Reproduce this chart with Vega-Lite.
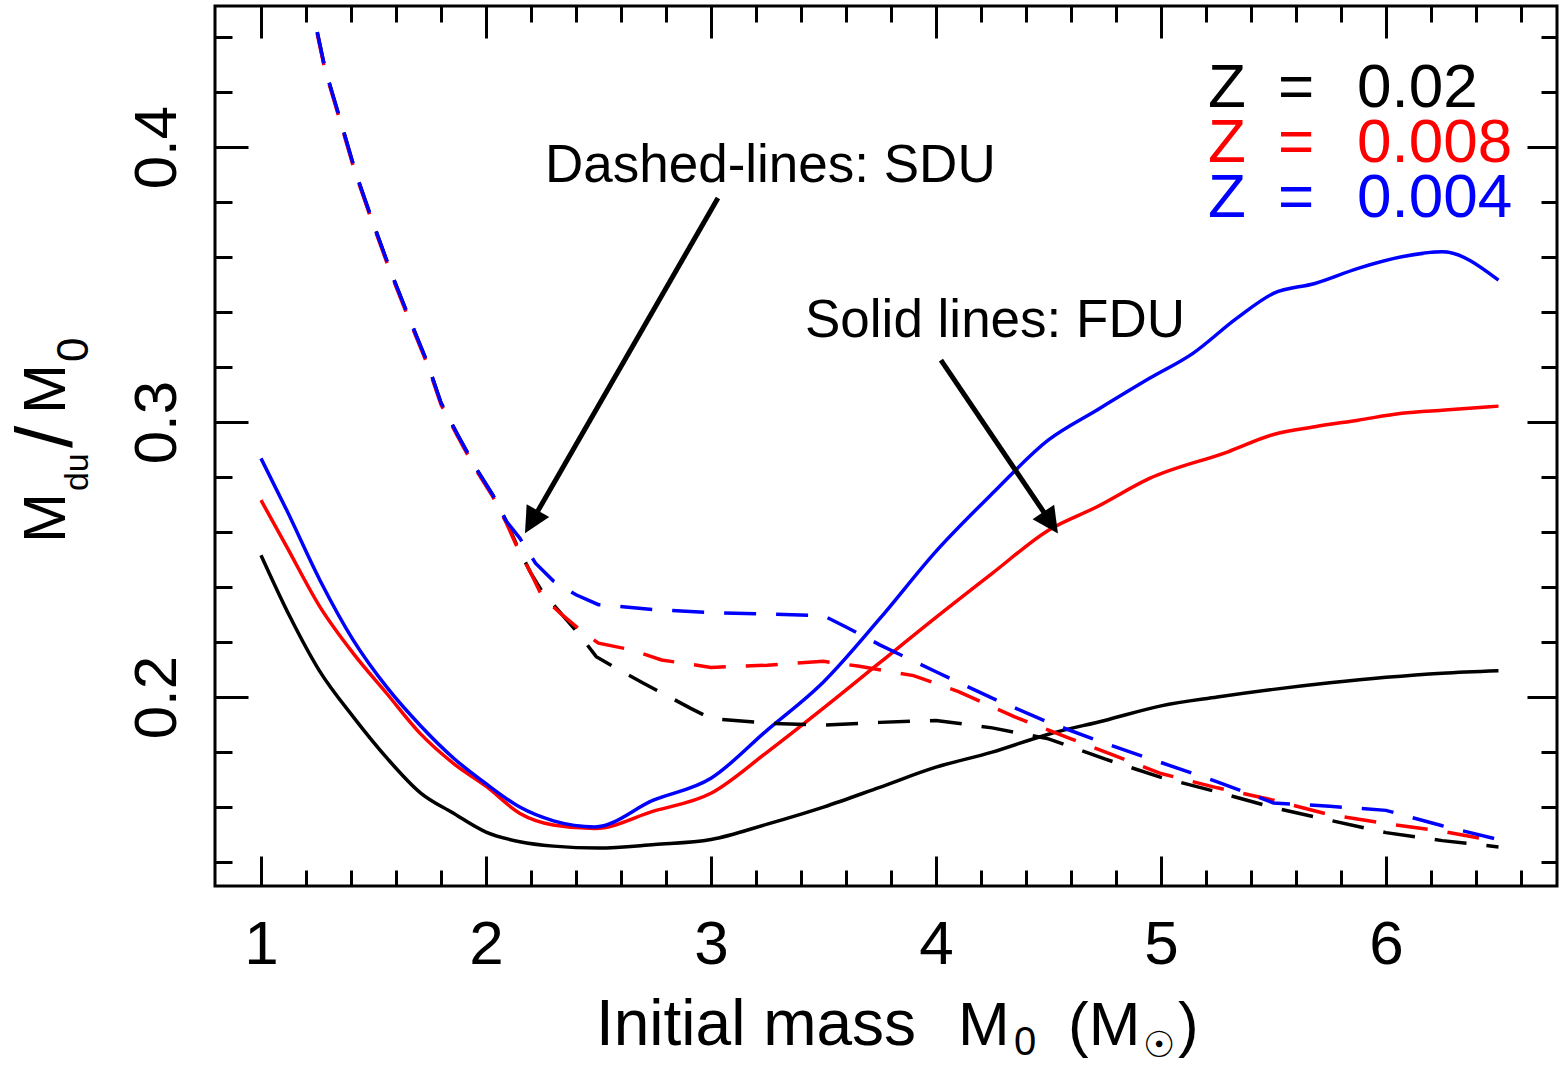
{
  "$schema": "https://vega.github.io/schema/vega-lite/v6.json",
  "width": 1342,
  "height": 880,
  "padding": {"left": 215, "top": 6, "right": 3, "bottom": 180},
  "autosize": {"type": "none"},
  "background": "white",
  "config": {
    "view": {"stroke": "#000000", "strokeWidth": 3},
    "axis": {"grid": false, "domain": false, "tickColor": "#000000", "tickWidth": 3, "labelColor": "#000000", "labelFont": "Liberation Sans", "labelFontSize": 62}
  },
  "datasets": {
    "fdu": [
      {"m": 1.0, "r": 0.2516, "z": "0.02"}, {"m": 1.13, "r": 0.229, "z": "0.02"}, {"m": 1.26, "r": 0.2095, "z": "0.02"},
      {"m": 1.41, "r": 0.1928, "z": "0.02"}, {"m": 1.56, "r": 0.1778, "z": "0.02"}, {"m": 1.71, "r": 0.1651, "z": "0.02"},
      {"m": 1.85, "r": 0.158, "z": "0.02"}, {"m": 2.0, "r": 0.1509, "z": "0.02"}, {"m": 2.15, "r": 0.1474, "z": "0.02"},
      {"m": 2.3, "r": 0.1458, "z": "0.02"}, {"m": 2.5, "r": 0.1451, "z": "0.02"}, {"m": 2.75, "r": 0.1464, "z": "0.02"},
      {"m": 3.0, "r": 0.1482, "z": "0.02"}, {"m": 3.25, "r": 0.1538, "z": "0.02"}, {"m": 3.5, "r": 0.1600, "z": "0.02"},
      {"m": 3.75, "r": 0.1672, "z": "0.02"}, {"m": 4.0, "r": 0.1745, "z": "0.02"}, {"m": 4.25, "r": 0.1800, "z": "0.02"},
      {"m": 4.5, "r": 0.1865, "z": "0.02"}, {"m": 4.75, "r": 0.1915, "z": "0.02"}, {"m": 5.0, "r": 0.1968, "z": "0.02"},
      {"m": 5.25, "r": 0.2000, "z": "0.02"}, {"m": 5.5, "r": 0.2028, "z": "0.02"}, {"m": 5.75, "r": 0.2052, "z": "0.02"},
      {"m": 6.0, "r": 0.2072, "z": "0.02"}, {"m": 6.25, "r": 0.2087, "z": "0.02"}, {"m": 6.5, "r": 0.2096, "z": "0.02"},

      {"m": 1.0, "r": 0.2716, "z": "0.008"}, {"m": 1.114, "r": 0.2547, "z": "0.008"}, {"m": 1.262, "r": 0.2328, "z": "0.008"},
      {"m": 1.41, "r": 0.2159, "z": "0.008"}, {"m": 1.559, "r": 0.2013, "z": "0.008"}, {"m": 1.707, "r": 0.1868, "z": "0.008"},
      {"m": 1.855, "r": 0.1759, "z": "0.008"}, {"m": 2.003, "r": 0.1674, "z": "0.008"}, {"m": 2.151, "r": 0.1577, "z": "0.008"},
      {"m": 2.299, "r": 0.1535, "z": "0.008"}, {"m": 2.484, "r": 0.1522, "z": "0.008"}, {"m": 2.744, "r": 0.1585, "z": "0.008"},
      {"m": 3.0, "r": 0.1650, "z": "0.008"}, {"m": 3.25, "r": 0.1800, "z": "0.008"}, {"m": 3.5, "r": 0.1960, "z": "0.008"},
      {"m": 3.75, "r": 0.2125, "z": "0.008"}, {"m": 4.0, "r": 0.2290, "z": "0.008"}, {"m": 4.25, "r": 0.2450, "z": "0.008"},
      {"m": 4.5, "r": 0.2607, "z": "0.008"}, {"m": 4.716, "r": 0.2692, "z": "0.008"}, {"m": 4.949, "r": 0.2795, "z": "0.008"},
      {"m": 5.298, "r": 0.2892, "z": "0.008"}, {"m": 5.5, "r": 0.2955, "z": "0.008"}, {"m": 5.684, "r": 0.2983, "z": "0.008"},
      {"m": 5.876, "r": 0.3007, "z": "0.008"}, {"m": 6.07, "r": 0.3032, "z": "0.008"}, {"m": 6.262, "r": 0.3044, "z": "0.008"},
      {"m": 6.5, "r": 0.3058, "z": "0.008"},

      {"m": 1.0, "r": 0.2868, "z": "0.004"}, {"m": 1.114, "r": 0.268, "z": "0.004"}, {"m": 1.262, "r": 0.2425, "z": "0.004"},
      {"m": 1.41, "r": 0.2207, "z": "0.004"}, {"m": 1.56, "r": 0.2035, "z": "0.004"}, {"m": 1.71, "r": 0.1895, "z": "0.004"},
      {"m": 1.86, "r": 0.1775, "z": "0.004"}, {"m": 2.0, "r": 0.1685, "z": "0.004"}, {"m": 2.15, "r": 0.1600, "z": "0.004"},
      {"m": 2.3, "r": 0.1550, "z": "0.004"}, {"m": 2.484, "r": 0.1528, "z": "0.004"}, {"m": 2.744, "r": 0.1625, "z": "0.004"},
      {"m": 3.0, "r": 0.1705, "z": "0.004"}, {"m": 3.25, "r": 0.1880, "z": "0.004"}, {"m": 3.5, "r": 0.2055, "z": "0.004"},
      {"m": 3.75, "r": 0.2285, "z": "0.004"}, {"m": 4.0, "r": 0.2530, "z": "0.004"}, {"m": 4.25, "r": 0.2740, "z": "0.004"},
      {"m": 4.5, "r": 0.2935, "z": "0.004"}, {"m": 4.716, "r": 0.3044, "z": "0.004"}, {"m": 4.949, "r": 0.3159, "z": "0.004"},
      {"m": 5.142, "r": 0.3250, "z": "0.004"}, {"m": 5.336, "r": 0.3377, "z": "0.004"}, {"m": 5.5, "r": 0.3468, "z": "0.004"},
      {"m": 5.684, "r": 0.3504, "z": "0.004"}, {"m": 5.876, "r": 0.3559, "z": "0.004"}, {"m": 6.07, "r": 0.3601, "z": "0.004"},
      {"m": 6.25, "r": 0.3619, "z": "0.004"}, {"m": 6.5, "r": 0.3516, "z": "0.004"}
    ],
    "sdu": [
      {"m": 1.25, "r": 0.4418, "z": "0.02"}, {"m": 1.284, "r": 0.4287, "z": "0.02"}, {"m": 1.35, "r": 0.4105, "z": "0.02"},
      {"m": 1.42, "r": 0.3909, "z": "0.02"}, {"m": 1.5, "r": 0.3720, "z": "0.02"}, {"m": 1.58, "r": 0.3540, "z": "0.02"},
      {"m": 1.66, "r": 0.3375, "z": "0.02"}, {"m": 1.74, "r": 0.3215, "z": "0.02"}, {"m": 1.8, "r": 0.3070, "z": "0.02"},
      {"m": 1.87, "r": 0.2960, "z": "0.02"}, {"m": 1.95, "r": 0.2840, "z": "0.02"}, {"m": 2.03, "r": 0.2735, "z": "0.02"},
      {"m": 2.09, "r": 0.2640, "z": "0.02"}, {"m": 2.14, "r": 0.2547, "z": "0.02"}, {"m": 2.2, "r": 0.2450, "z": "0.02"},
      {"m": 2.25, "r": 0.2383, "z": "0.02"}, {"m": 2.34, "r": 0.2298, "z": "0.02"}, {"m": 2.41, "r": 0.2232, "z": "0.02"},
      {"m": 2.49, "r": 0.2147, "z": "0.02"}, {"m": 2.58, "r": 0.2104, "z": "0.02"}, {"m": 2.7, "r": 0.2050, "z": "0.02"},
      {"m": 2.8, "r": 0.2007, "z": "0.02"}, {"m": 2.91, "r": 0.1959, "z": "0.02"}, {"m": 3.0, "r": 0.1922, "z": "0.02"},
      {"m": 3.25, "r": 0.1905, "z": "0.02"}, {"m": 3.5, "r": 0.1898, "z": "0.02"}, {"m": 3.75, "r": 0.1908, "z": "0.02"},
      {"m": 4.0, "r": 0.1915, "z": "0.02"}, {"m": 4.25, "r": 0.1888, "z": "0.02"}, {"m": 4.5, "r": 0.1848, "z": "0.02"},
      {"m": 4.75, "r": 0.1775, "z": "0.02"}, {"m": 5.0, "r": 0.1708, "z": "0.02"}, {"m": 5.25, "r": 0.1655, "z": "0.02"},
      {"m": 5.5, "r": 0.1598, "z": "0.02"}, {"m": 5.75, "r": 0.1552, "z": "0.02"}, {"m": 6.0, "r": 0.1507, "z": "0.02"},
      {"m": 6.25, "r": 0.1478, "z": "0.02"}, {"m": 6.5, "r": 0.1455, "z": "0.02"},

      {"m": 1.25, "r": 0.4412, "z": "0.008"}, {"m": 1.284, "r": 0.4281, "z": "0.008"}, {"m": 1.35, "r": 0.4099, "z": "0.008"},
      {"m": 1.42, "r": 0.3903, "z": "0.008"}, {"m": 1.5, "r": 0.3714, "z": "0.008"}, {"m": 1.58, "r": 0.3534, "z": "0.008"},
      {"m": 1.66, "r": 0.3369, "z": "0.008"}, {"m": 1.74, "r": 0.3209, "z": "0.008"}, {"m": 1.8, "r": 0.3064, "z": "0.008"},
      {"m": 1.87, "r": 0.2954, "z": "0.008"}, {"m": 1.95, "r": 0.2834, "z": "0.008"}, {"m": 2.03, "r": 0.2729, "z": "0.008"},
      {"m": 2.09, "r": 0.2634, "z": "0.008"}, {"m": 2.14, "r": 0.2543, "z": "0.008"}, {"m": 2.2, "r": 0.2450, "z": "0.008"},
      {"m": 2.25, "r": 0.2365, "z": "0.008"}, {"m": 2.34, "r": 0.2298, "z": "0.008"}, {"m": 2.43, "r": 0.2236, "z": "0.008"},
      {"m": 2.5, "r": 0.2196, "z": "0.008"}, {"m": 2.65, "r": 0.2171, "z": "0.008"}, {"m": 2.78, "r": 0.2135, "z": "0.008"},
      {"m": 3.0, "r": 0.2108, "z": "0.008"}, {"m": 3.25, "r": 0.2116, "z": "0.008"}, {"m": 3.5, "r": 0.2130, "z": "0.008"},
      {"m": 3.66, "r": 0.2112, "z": "0.008"}, {"m": 3.9, "r": 0.2078, "z": "0.008"}, {"m": 4.1, "r": 0.2020, "z": "0.008"},
      {"m": 4.35, "r": 0.1928, "z": "0.008"}, {"m": 4.6, "r": 0.1848, "z": "0.008"}, {"m": 4.8, "r": 0.1785, "z": "0.008"},
      {"m": 5.0, "r": 0.1722, "z": "0.008"}, {"m": 5.25, "r": 0.1670, "z": "0.008"}, {"m": 5.5, "r": 0.1625, "z": "0.008"},
      {"m": 5.75, "r": 0.1572, "z": "0.008"}, {"m": 6.0, "r": 0.1540, "z": "0.008"}, {"m": 6.25, "r": 0.1512, "z": "0.008"},
      {"m": 6.5, "r": 0.1475, "z": "0.008"},

      {"m": 1.25, "r": 0.4418, "z": "0.004"}, {"m": 1.284, "r": 0.4287, "z": "0.004"}, {"m": 1.35, "r": 0.4105, "z": "0.004"},
      {"m": 1.42, "r": 0.3909, "z": "0.004"}, {"m": 1.5, "r": 0.3720, "z": "0.004"}, {"m": 1.58, "r": 0.3540, "z": "0.004"},
      {"m": 1.66, "r": 0.3375, "z": "0.004"}, {"m": 1.74, "r": 0.3215, "z": "0.004"}, {"m": 1.8, "r": 0.3070, "z": "0.004"},
      {"m": 1.87, "r": 0.2960, "z": "0.004"}, {"m": 1.95, "r": 0.2840, "z": "0.004"}, {"m": 2.03, "r": 0.2735, "z": "0.004"},
      {"m": 2.09, "r": 0.2640, "z": "0.004"}, {"m": 2.15, "r": 0.2578, "z": "0.004"}, {"m": 2.22, "r": 0.2487, "z": "0.004"},
      {"m": 2.3, "r": 0.2422, "z": "0.004"}, {"m": 2.4, "r": 0.2372, "z": "0.004"}, {"m": 2.5, "r": 0.2336, "z": "0.004"},
      {"m": 2.75, "r": 0.2318, "z": "0.004"}, {"m": 3.0, "r": 0.2307, "z": "0.004"}, {"m": 3.25, "r": 0.2302, "z": "0.004"},
      {"m": 3.5, "r": 0.2296, "z": "0.004"}, {"m": 3.6, "r": 0.2255, "z": "0.004"}, {"m": 3.75, "r": 0.2190, "z": "0.004"},
      {"m": 4.0, "r": 0.2092, "z": "0.004"}, {"m": 4.25, "r": 0.1996, "z": "0.004"}, {"m": 4.5, "r": 0.1908, "z": "0.004"},
      {"m": 4.75, "r": 0.1832, "z": "0.004"}, {"m": 5.0, "r": 0.1762, "z": "0.004"}, {"m": 5.25, "r": 0.1692, "z": "0.004"},
      {"m": 5.5, "r": 0.1615, "z": "0.004"}, {"m": 5.75, "r": 0.1603, "z": "0.004"}, {"m": 6.0, "r": 0.1588, "z": "0.004"},
      {"m": 6.25, "r": 0.1532, "z": "0.004"}, {"m": 6.5, "r": 0.1482, "z": "0.004"}
    ],
    "arrows": [
      {"x": 3.031, "y": 0.3815, "x2": 2.218, "y2": 0.2659},
      {"x": 4.022, "y": 0.3225, "x2": 4.492, "y2": 0.2657}
    ],
    "heads": [
      {"x": 2.1733, "y": 0.2596, "a": 209.9},
      {"x": 4.542, "y": 0.2595, "a": 145.9}
    ],
    "notes": [
      {"x": 2.2622, "y": 0.38727, "t": "Dashed-lines: SDU"},
      {"x": 3.4178, "y": 0.33091, "t": "Solid lines: FDU"}
    ],
    "key": [
      {"x": 5.2089, "y": 0.41455, "t": "Z", "z": "0.02"},
      {"x": 5.52, "y": 0.41455, "t": "=", "z": "0.02"},
      {"x": 5.8711, "y": 0.41455, "t": "0.02", "z": "0.02"},
      {"x": 5.2089, "y": 0.39455, "t": "Z", "z": "0.008"},
      {"x": 5.52, "y": 0.39455, "t": "=", "z": "0.008"},
      {"x": 5.8711, "y": 0.39455, "t": "0.008", "z": "0.008"},
      {"x": 5.2089, "y": 0.37455, "t": "Z", "z": "0.004"},
      {"x": 5.52, "y": 0.37455, "t": "=", "z": "0.004"},
      {"x": 5.8711, "y": 0.37455, "t": "0.004", "z": "0.004"}
    ],
    "titles": [
      {"t": "M", "x": 0.1289, "y": 0.2560, "s": 60, "a": 270},
      {"t": "du", "x": 0.2311, "y": 0.2749, "s": 34, "a": 270},
      {"t": "/", "x": 0.1600, "y": 0.29055, "s": 80, "a": 270},
      {"t": "M", "x": 0.1289, "y": 0.30291, "s": 60, "a": 270},
      {"t": "0", "x": 0.2311, "y": 0.32182, "s": 44, "a": 270},
      {"t": "Initial mass", "x": 2.4889, "y": 0.07345, "s": 64, "a": 0},
      {"t": "M", "x": 4.0978, "y": 0.07345, "s": 62, "a": 0},
      {"t": "0", "x": 4.3467, "y": 0.06982, "s": 40, "a": 0},
      {"t": "(M", "x": 4.5867, "y": 0.07345, "s": 62, "a": 0},
      {"t": "☉", "x": 4.92, "y": 0.06909, "s": 36, "a": 0},
      {"t": ")", "x": 5.0756, "y": 0.07345, "s": 62, "a": 0}
    ]
  },
  "layer": [
    {
      "data": {"name": "fdu"},
      "mark": {"type": "line", "strokeWidth": 3.5, "strokeJoin": "round", "interpolate": "monotone"},
      "encoding": {
        "x": {"field": "m", "type": "quantitative",
              "scale": {"domain": [0.7956, 6.76], "nice": false, "zero": false},
              "axis": {"orient": "bottom", "values": [1, 2, 3, 4, 5, 6], "format": "d", "ticks": false, "labels": true,
                       "labelPadding": 77, "labelBaseline": "alphabetic", "labelFlush": false, "labelOverlap": false, "title": null}},
        "y": {"field": "r", "type": "quantitative",
              "scale": {"domain": [0.1313, 0.4513], "nice": false, "zero": false},
              "axis": {"orient": "left", "values": [0.2, 0.3, 0.4], "format": ".1f", "ticks": false, "labels": true,
                       "labelAngle": 270, "labelAlign": "center", "labelBaseline": "alphabetic", "labelPadding": 40,
                       "labelFontSize": 60, "labelFlush": false, "labelOverlap": false, "title": null}},
        "color": {"field": "z", "type": "nominal",
                  "scale": {"domain": ["0.02", "0.008", "0.004"], "range": ["#000000", "#ff0000", "#0000ff"]}, "legend": null}
      }
    },
    {
      "data": {"name": "sdu"},
      "mark": {"type": "line", "strokeWidth": 3.5, "strokeDash": [32, 20]},
      "encoding": {
        "x": {"field": "m", "type": "quantitative",
              "scale": {"domain": [0.7956, 6.76], "nice": false, "zero": false},
              "axis": {"orient": "bottom", "values": [1, 2, 3, 4, 5, 6], "labels": false, "tickSize": -30, "title": null}},
        "y": {"field": "r", "type": "quantitative",
              "scale": {"domain": [0.1313, 0.4513], "nice": false, "zero": false},
              "axis": {"orient": "left", "values": [0.2, 0.3, 0.4], "labels": false, "tickSize": -33, "title": null}},
        "color": {"field": "z", "type": "nominal",
                  "scale": {"domain": ["0.02", "0.008", "0.004"], "range": ["#000000", "#ff0000", "#0000ff"]}, "legend": null}
      }
    },
    {
      "data": {"name": "arrows"},
      "mark": {"type": "rule", "color": "#000000", "strokeWidth": 5},
      "encoding": {
        "x": {"field": "x", "type": "quantitative",
              "scale": {"domain": [0.7956, 6.76], "nice": false, "zero": false},
              "axis": {"orient": "bottom", "values": [1.2, 1.4, 1.6, 1.8, 2.2, 2.4, 2.6, 2.8, 3.2, 3.4, 3.6, 3.8, 4.2, 4.4, 4.6, 4.8, 5.2, 5.4, 5.6, 5.8, 6.2, 6.4, 6.6],
                       "labels": false, "tickSize": -16, "title": null}},
        "y": {"field": "y", "type": "quantitative",
              "scale": {"domain": [0.1313, 0.4513], "nice": false, "zero": false},
              "axis": {"orient": "left", "values": [0.14, 0.16, 0.18, 0.22, 0.24, 0.26, 0.28, 0.32, 0.34, 0.36, 0.38, 0.42, 0.44],
                       "labels": false, "tickSize": -17, "title": null}},
        "x2": {"field": "x2"},
        "y2": {"field": "y2"}
      }
    },
    {
      "data": {"name": "heads"},
      "mark": {"type": "point", "shape": "M0,0L-1,2L1,2Z", "filled": true, "color": "#000000", "opacity": 1, "size": 676, "strokeWidth": 0},
      "encoding": {
        "x": {"field": "x", "type": "quantitative",
              "scale": {"domain": [0.7956, 6.76], "nice": false, "zero": false},
              "axis": {"orient": "top", "values": [1, 2, 3, 4, 5, 6], "labels": false, "tickSize": -32, "title": null}},
        "y": {"field": "y", "type": "quantitative",
              "scale": {"domain": [0.1313, 0.4513], "nice": false, "zero": false},
              "axis": {"orient": "right", "values": [0.2, 0.3, 0.4], "labels": false, "tickSize": -30, "title": null}},
        "angle": {"field": "a", "type": "quantitative", "scale": null}
      }
    },
    {
      "data": {"name": "notes"},
      "mark": {"type": "text", "align": "left", "baseline": "alphabetic", "font": "Liberation Sans", "fontSize": 53, "color": "#000000"},
      "encoding": {
        "x": {"field": "x", "type": "quantitative",
              "scale": {"domain": [0.7956, 6.76], "nice": false, "zero": false},
              "axis": {"orient": "top", "values": [1.2, 1.4, 1.6, 1.8, 2.2, 2.4, 2.6, 2.8, 3.2, 3.4, 3.6, 3.8, 4.2, 4.4, 4.6, 4.8, 5.2, 5.4, 5.6, 5.8, 6.2, 6.4, 6.6],
                       "labels": false, "tickSize": -16, "title": null}},
        "y": {"field": "y", "type": "quantitative",
              "scale": {"domain": [0.1313, 0.4513], "nice": false, "zero": false},
              "axis": {"orient": "right", "values": [0.14, 0.16, 0.18, 0.22, 0.24, 0.26, 0.28, 0.32, 0.34, 0.36, 0.38, 0.42, 0.44],
                       "labels": false, "tickSize": -16, "title": null}},
        "text": {"field": "t", "type": "nominal"}
      }
    },
    {
      "data": {"name": "key"},
      "mark": {"type": "text", "align": "left", "baseline": "alphabetic", "font": "Liberation Sans", "fontSize": 62},
      "encoding": {
        "x": {"field": "x", "type": "quantitative", "scale": {"domain": [0.7956, 6.76], "nice": false, "zero": false}, "axis": null},
        "y": {"field": "y", "type": "quantitative", "scale": {"domain": [0.1313, 0.4513], "nice": false, "zero": false}, "axis": null},
        "text": {"field": "t", "type": "nominal"},
        "color": {"field": "z", "type": "nominal",
                  "scale": {"domain": ["0.02", "0.008", "0.004"], "range": ["#000000", "#ff0000", "#0000ff"]}, "legend": null}
      }
    },
    {
      "data": {"name": "titles"},
      "mark": {"type": "text", "align": "left", "baseline": "alphabetic", "font": "Liberation Sans, DejaVu Sans", "color": "#000000"},
      "encoding": {
        "x": {"field": "x", "type": "quantitative", "scale": {"domain": [0.7956, 6.76], "nice": false, "zero": false}, "axis": null},
        "y": {"field": "y", "type": "quantitative", "scale": {"domain": [0.1313, 0.4513], "nice": false, "zero": false}, "axis": null},
        "text": {"field": "t", "type": "nominal"},
        "size": {"field": "s", "type": "quantitative", "scale": null},
        "angle": {"field": "a", "type": "quantitative", "scale": null}
      }
    }
  ],
  "resolve": {"axis": {"x": "independent", "y": "independent"}}
}
